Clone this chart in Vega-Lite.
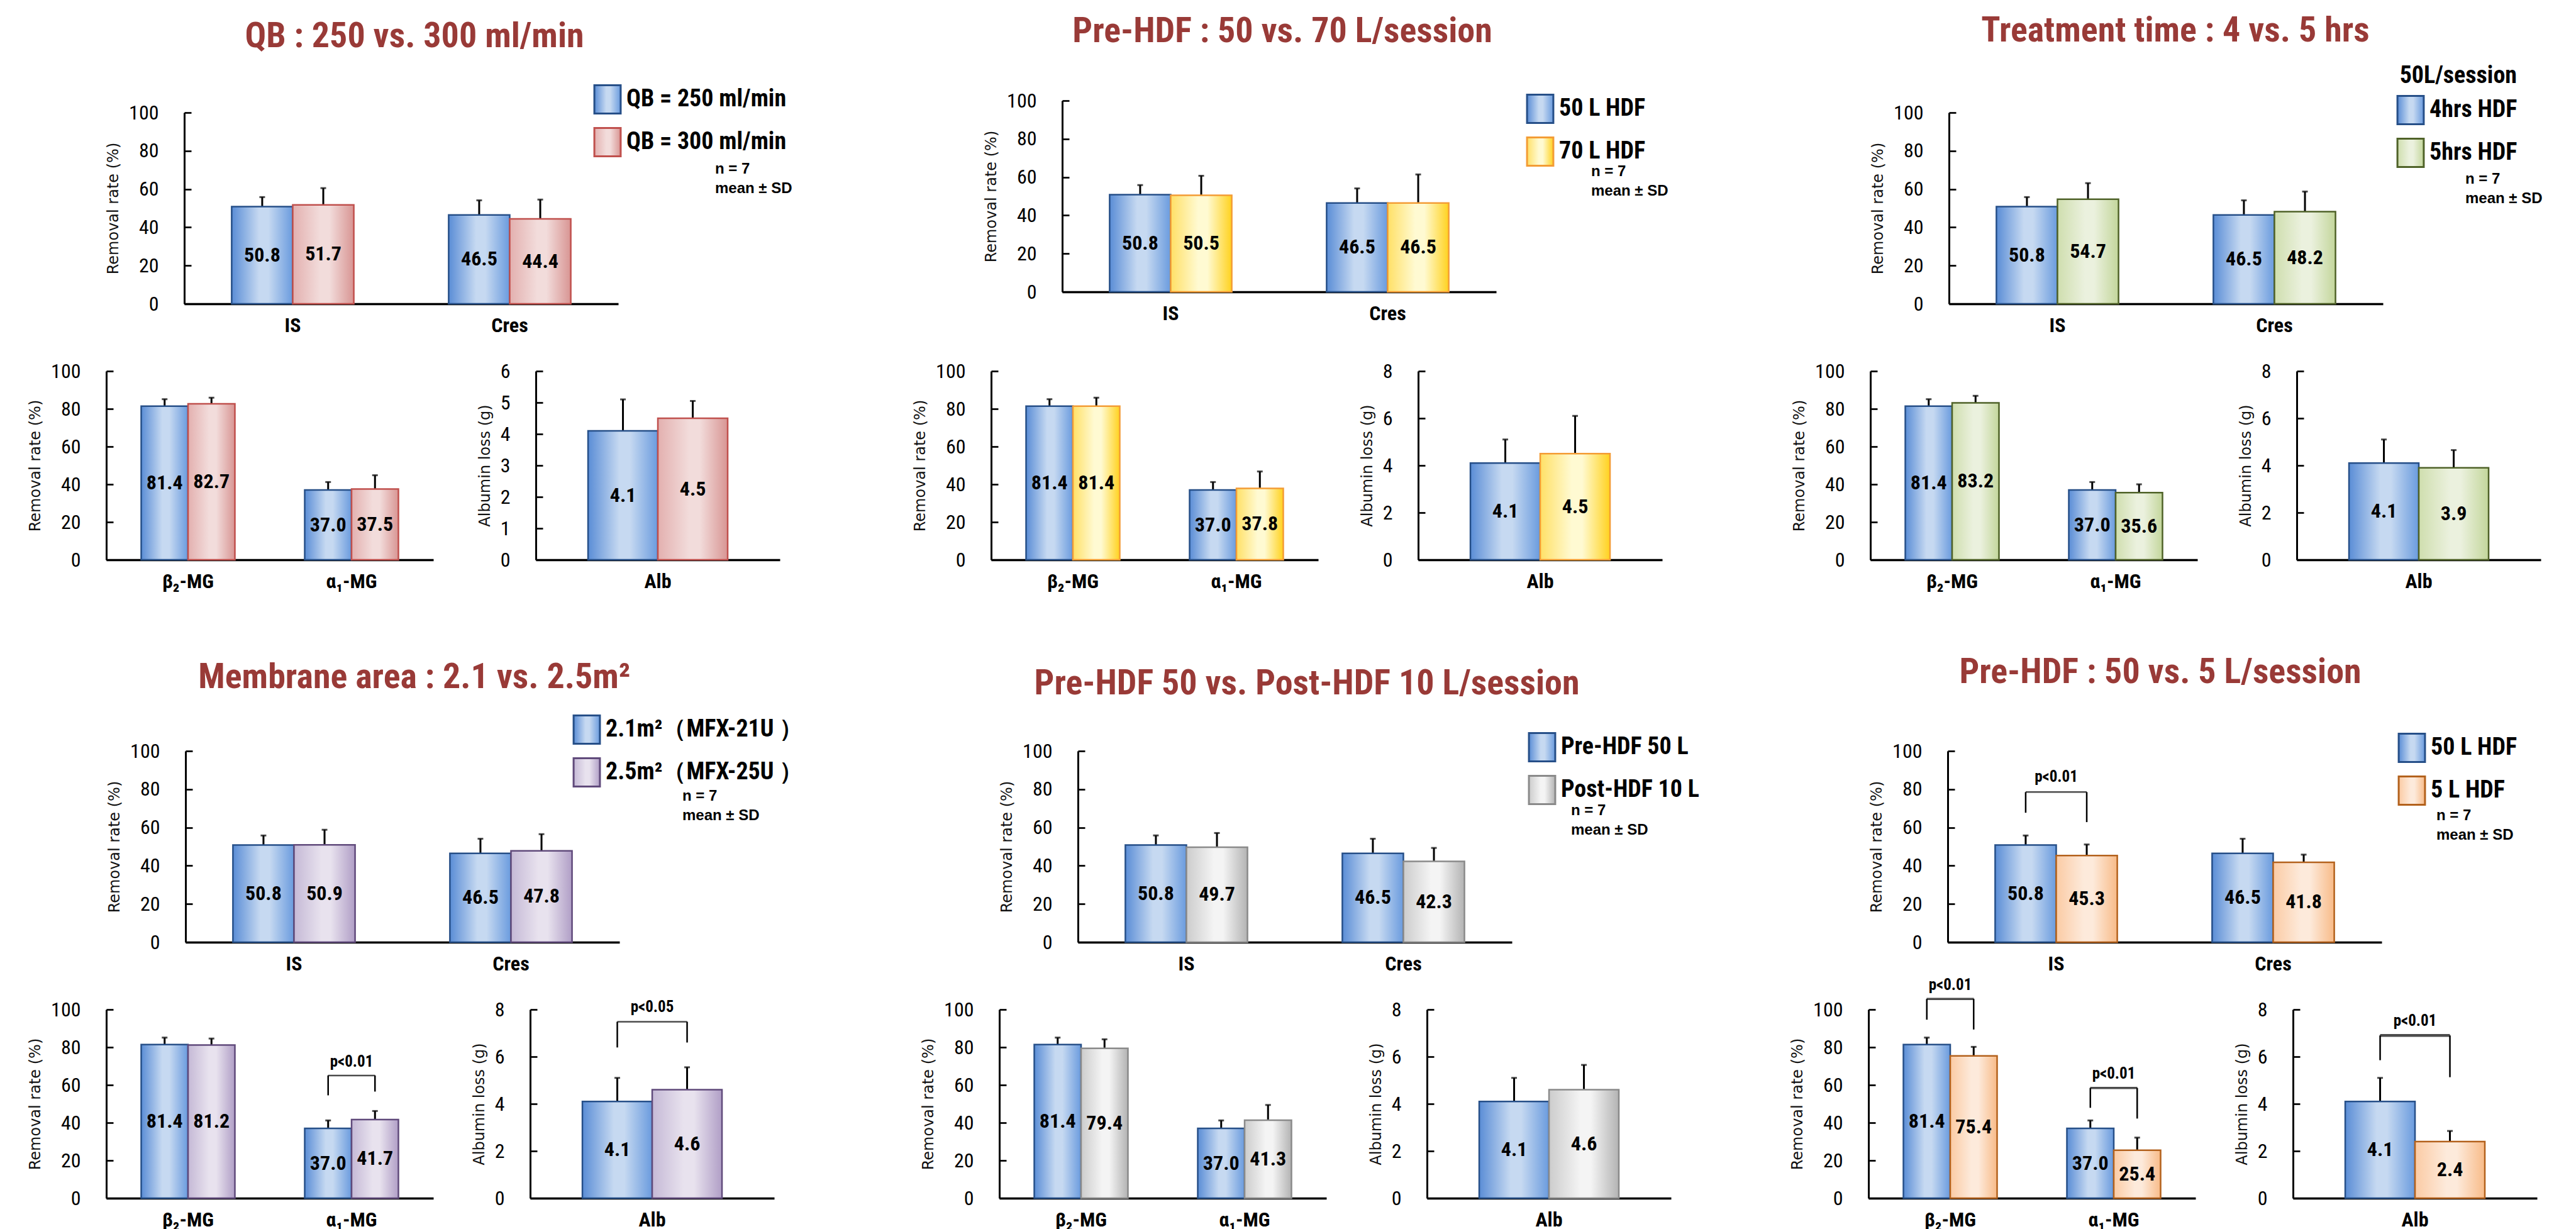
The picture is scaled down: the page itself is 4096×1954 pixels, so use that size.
{
"$schema":"https://vega.github.io/schema/vega-lite/v6.json",
"background":"white",
"padding":{"left":28,"top":15,"right":0,"bottom":0},
"config":{
 "view":{"stroke":null},
 "concat":{"spacing":0},
 "font":"Liberation Sans Narrow, Roboto Condensed, DejaVu Sans Condensed, Arial Narrow, sans-serif",
 "axis":{"grid":false,"domainColor":"#000","labelColor":"#000","labelFont":"Liberation Sans Narrow, Roboto Condensed, DejaVu Sans Condensed, Arial Narrow, sans-serif","labelFontSize":32,"titleFont":"DejaVu Sans, Verdana, sans-serif","titleFontSize":24,"titleFontWeight":"normal","titleColor":"#111"},
 "axisX":{"ticks":false,"domainWidth":3.5,"labelFontWeight":"bold","labelPadding":19,"labelAngle":0},
 "axisY":{"domainWidth":3,"ticks":true,"tickColor":"#000","tickWidth":2.7,"tickSize":-11,"labelPadding":52,"titlePadding":12,"labelFontWeight":"normal"},
 "legend":{"padding":0,"offset":0,"symbolType":"M-0.93,-1H0.93V1H-0.93Z","symbolSize":2025,"symbolStrokeWidth":3,"labelFont":"Liberation Sans Narrow, Roboto Condensed, DejaVu Sans Condensed, Arial Narrow, sans-serif","labelFontSize":38,"labelFontWeight":"bold","labelColor":"#000","labelOffset":6,"rowPadding":10,"labelLimit":800,"titleFont":"Liberation Sans Narrow, Roboto Condensed, DejaVu Sans Condensed, Arial Narrow, sans-serif","titleFontSize":38,"titleFontWeight":"bold","titleColor":"#000","titleLimit":800},
 "title":{"font":"Liberation Sans Narrow, Roboto Condensed, DejaVu Sans Condensed, Arial Narrow, sans-serif","fontSize":56,"fontWeight":"bold","color":"#993a37","anchor":"middle","frame":"group"},
 "text":{"font":"Liberation Sans Narrow, Roboto Condensed, DejaVu Sans Condensed, Arial Narrow, sans-serif","color":"#000"}
},
"datasets":{
 "d":[
  {"p":1,"g":"t","c":"IS","s":"QB = 250 ml/min","v":50.8,"sd":5.0},
  {"p":1,"g":"t","c":"IS","s":"QB = 300 ml/min","v":51.7,"sd":8.8},
  {"p":1,"g":"t","c":"Cres","s":"QB = 250 ml/min","v":46.5,"sd":7.6},
  {"p":1,"g":"t","c":"Cres","s":"QB = 300 ml/min","v":44.4,"sd":10.1},
  {"p":1,"g":"b","c":"β₂-MG","s":"QB = 250 ml/min","v":81.4,"sd":3.7},
  {"p":1,"g":"b","c":"β₂-MG","s":"QB = 300 ml/min","v":82.7,"sd":3.2},
  {"p":1,"g":"b","c":"α₁-MG","s":"QB = 250 ml/min","v":37.0,"sd":4.2},
  {"p":1,"g":"b","c":"α₁-MG","s":"QB = 300 ml/min","v":37.5,"sd":7.3},
  {"p":1,"g":"a","c":"Alb","s":"QB = 250 ml/min","v":4.1,"sd":1.0},
  {"p":1,"g":"a","c":"Alb","s":"QB = 300 ml/min","v":4.5,"sd":0.55},
  {"p":2,"g":"t","c":"IS","s":"50 L  HDF","v":50.8,"sd":5.0},
  {"p":2,"g":"t","c":"IS","s":"70 L  HDF","v":50.5,"sd":10.2},
  {"p":2,"g":"t","c":"Cres","s":"50 L  HDF","v":46.5,"sd":7.6},
  {"p":2,"g":"t","c":"Cres","s":"70 L  HDF","v":46.5,"sd":14.9},
  {"p":2,"g":"b","c":"β₂-MG","s":"50 L  HDF","v":81.4,"sd":3.7},
  {"p":2,"g":"b","c":"β₂-MG","s":"70 L  HDF","v":81.4,"sd":4.5},
  {"p":2,"g":"b","c":"α₁-MG","s":"50 L  HDF","v":37.0,"sd":4.2},
  {"p":2,"g":"b","c":"α₁-MG","s":"70 L  HDF","v":37.8,"sd":9.0},
  {"p":2,"g":"a","c":"Alb","s":"50 L  HDF","v":4.1,"sd":1.0},
  {"p":2,"g":"a","c":"Alb","s":"70 L  HDF","v":4.5,"sd":1.6},
  {"p":3,"g":"t","c":"IS","s":"4hrs HDF","v":50.8,"sd":5.0},
  {"p":3,"g":"t","c":"IS","s":"5hrs HDF","v":54.7,"sd":8.4},
  {"p":3,"g":"t","c":"Cres","s":"4hrs HDF","v":46.5,"sd":7.6},
  {"p":3,"g":"t","c":"Cres","s":"5hrs HDF","v":48.2,"sd":10.5},
  {"p":3,"g":"b","c":"β₂-MG","s":"4hrs HDF","v":81.4,"sd":3.7},
  {"p":3,"g":"b","c":"β₂-MG","s":"5hrs HDF","v":83.2,"sd":3.7},
  {"p":3,"g":"b","c":"α₁-MG","s":"4hrs HDF","v":37.0,"sd":4.2},
  {"p":3,"g":"b","c":"α₁-MG","s":"5hrs HDF","v":35.6,"sd":4.4},
  {"p":3,"g":"a","c":"Alb","s":"4hrs HDF","v":4.1,"sd":1.0},
  {"p":3,"g":"a","c":"Alb","s":"5hrs HDF","v":3.9,"sd":0.75},
  {"p":4,"g":"t","c":"IS","s":"2.1m²（MFX-21U ）","v":50.8,"sd":5.0},
  {"p":4,"g":"t","c":"IS","s":"2.5m²（MFX-25U ）","v":50.9,"sd":7.9},
  {"p":4,"g":"t","c":"Cres","s":"2.1m²（MFX-21U ）","v":46.5,"sd":7.6},
  {"p":4,"g":"t","c":"Cres","s":"2.5m²（MFX-25U ）","v":47.8,"sd":8.7},
  {"p":4,"g":"b","c":"β₂-MG","s":"2.1m²（MFX-21U ）","v":81.4,"sd":3.7},
  {"p":4,"g":"b","c":"β₂-MG","s":"2.5m²（MFX-25U ）","v":81.2,"sd":3.4},
  {"p":4,"g":"b","c":"α₁-MG","s":"2.1m²（MFX-21U ）","v":37.0,"sd":4.2},
  {"p":4,"g":"b","c":"α₁-MG","s":"2.5m²（MFX-25U ）","v":41.7,"sd":4.5},
  {"p":4,"g":"a","c":"Alb","s":"2.1m²（MFX-21U ）","v":4.1,"sd":1.0},
  {"p":4,"g":"a","c":"Alb","s":"2.5m²（MFX-25U ）","v":4.6,"sd":0.95},
  {"p":5,"g":"t","c":"IS","s":"Pre-HDF  50 L","v":50.8,"sd":5.0},
  {"p":5,"g":"t","c":"IS","s":"Post-HDF 10 L","v":49.7,"sd":7.4},
  {"p":5,"g":"t","c":"Cres","s":"Pre-HDF  50 L","v":46.5,"sd":7.6},
  {"p":5,"g":"t","c":"Cres","s":"Post-HDF 10 L","v":42.3,"sd":7.0},
  {"p":5,"g":"b","c":"β₂-MG","s":"Pre-HDF  50 L","v":81.4,"sd":3.7},
  {"p":5,"g":"b","c":"β₂-MG","s":"Post-HDF 10 L","v":79.4,"sd":4.8},
  {"p":5,"g":"b","c":"α₁-MG","s":"Pre-HDF  50 L","v":37.0,"sd":4.2},
  {"p":5,"g":"b","c":"α₁-MG","s":"Post-HDF 10 L","v":41.3,"sd":8.1},
  {"p":5,"g":"a","c":"Alb","s":"Pre-HDF  50 L","v":4.1,"sd":1.0},
  {"p":5,"g":"a","c":"Alb","s":"Post-HDF 10 L","v":4.6,"sd":1.05},
  {"p":6,"g":"t","c":"IS","s":"50 L HDF","v":50.8,"sd":5.0},
  {"p":6,"g":"t","c":"IS","s":" 5 L  HDF","v":45.3,"sd":5.8},
  {"p":6,"g":"t","c":"Cres","s":"50 L HDF","v":46.5,"sd":7.6},
  {"p":6,"g":"t","c":"Cres","s":" 5 L  HDF","v":41.8,"sd":4.0},
  {"p":6,"g":"b","c":"β₂-MG","s":"50 L HDF","v":81.4,"sd":3.7},
  {"p":6,"g":"b","c":"β₂-MG","s":" 5 L  HDF","v":75.4,"sd":4.8},
  {"p":6,"g":"b","c":"α₁-MG","s":"50 L HDF","v":37.0,"sd":4.2},
  {"p":6,"g":"b","c":"α₁-MG","s":" 5 L  HDF","v":25.4,"sd":6.7},
  {"p":6,"g":"a","c":"Alb","s":"50 L HDF","v":4.1,"sd":1.0},
  {"p":6,"g":"a","c":"Alb","s":" 5 L  HDF","v":2.4,"sd":0.45}
 ],
 "legs":[
  {"p":4,"g":"b","c":"α₁-MG","s":"2.1m²（MFX-21U ）","top":65,"bot":54.5},
  {"p":4,"g":"b","c":"α₁-MG","s":"2.5m²（MFX-25U ）","top":65,"bot":56.5},
  {"p":4,"g":"a","c":"Alb","s":"2.1m²（MFX-21U ）","top":7.48,"bot":6.39},
  {"p":4,"g":"a","c":"Alb","s":"2.5m²（MFX-25U ）","top":7.48,"bot":6.6},
  {"p":6,"g":"t","c":"IS","s":"50 L HDF","top":78.5,"bot":67.7},
  {"p":6,"g":"t","c":"IS","s":" 5 L  HDF","top":78.5,"bot":62.8},
  {"p":6,"g":"b","c":"β₂-MG","s":"50 L HDF","top":105.6,"bot":94.6},
  {"p":6,"g":"b","c":"β₂-MG","s":" 5 L  HDF","top":105.6,"bot":89.4},
  {"p":6,"g":"b","c":"α₁-MG","s":"50 L HDF","top":58.4,"bot":47.9},
  {"p":6,"g":"b","c":"α₁-MG","s":" 5 L  HDF","top":58.4,"bot":42.2},
  {"p":6,"g":"a","c":"Alb","s":"50 L HDF","top":6.9,"bot":5.85},
  {"p":6,"g":"a","c":"Alb","s":" 5 L  HDF","top":6.9,"bot":5.13}
 ],
 "brk":[
  {"p":4,"g":"b","c":"α₁-MG","h":65,"ty":72.3,"t":"p<0.01"},
  {"p":4,"g":"a","c":"Alb","h":7.48,"ty":8.1,"t":"p<0.05"},
  {"p":6,"g":"t","c":"IS","h":78.5,"ty":86.5,"t":"p<0.01"},
  {"p":6,"g":"b","c":"β₂-MG","h":105.6,"ty":113,"t":"p<0.01"},
  {"p":6,"g":"b","c":"α₁-MG","h":58.4,"ty":66,"t":"p<0.01"},
  {"p":6,"g":"a","c":"Alb","h":6.9,"ty":7.53,"t":"p<0.01"}
 ]
},
"spacing":0,"bounds":"full",
"resolve":{"scale":{"fill":"independent","stroke":"independent","xOffset":"independent"},"legend":{"fill":"independent","stroke":"independent"}},
"vconcat":[
 {"hconcat":[
   {"width":125,"height":1,"data":{"values":[{}]},"mark":{"type":"rule","opacity":0},"encoding":{"x":{"datum":0,"type":"quantitative","scale":{"domain":[0,1],"nice":false,"zero":false},"axis":null},"y":{"datum":146,"type":"quantitative","scale":{"domain":[0,1],"nice":false,"zero":false},"axis":null},"y2":{"datum":-379}}},
   {"width":690,"height":323,
    "title":{"text":"QB : 250 vs. 300 ml/min","dx":21,"offset":46.7},
    "data":{"name":"d"},
    "transform":[{"filter":"datum.p==1&&datum.g=='t'"},{"calculate":"datum.v/2","as":"mid"},{"calculate":"datum.v+datum.sd","as":"hi"}],
    "encoding":{"x":{"field":"c","type":"nominal","title":null,"scale":{"type":"band","domain":["IS","Cres"],"paddingInner":0.437,"paddingOuter":0.2185}}},
    "layer":[
     {"mark":{"type":"rule","color":"#000","strokeWidth":3},"encoding":{"xOffset":{"field":"s","type":"nominal","scale":{"type":"band","domain":["QB = 250 ml/min","QB = 300 ml/min"],"range":[0,194.2],"paddingInner":0,"paddingOuter":0}},"y":{"field":"v","type":"quantitative","title":"Removal rate (%)","scale":{"domain":[0,106.25],"nice":false},"axis":{"values":[0,20,40,60,80,100],"domainDash":[304,100],"titleY":171}},"y2":{"field":"hi"}}},
     {"mark":{"type":"tick","color":"#000","size":9,"thickness":3},"encoding":{"xOffset":{"field":"s","type":"nominal"},"y":{"field":"hi","type":"quantitative","title":"Removal rate (%)"}}},
     {"mark":{"type":"bar","strokeWidth":2.5},"encoding":{"xOffset":{"field":"s","type":"nominal"},"y":{"field":"v","type":"quantitative","title":"Removal rate (%)"},
       "fill":{"field":"s","type":"nominal","scale":{"domain":["QB = 250 ml/min","QB = 300 ml/min"],"range":[{"expr":"{gradient:'linear',x1:0,y1:0,x2:1,y2:0,stops:[{offset:0,color:'#5a8dd6'},{offset:0.45,color:'#c6d9f1'},{offset:0.6,color:'#c6d9f1'},{offset:1,color:'#6a9bde'}]}"},{"expr":"{gradient:'linear',x1:0,y1:0,x2:1,y2:0,stops:[{offset:0,color:'#e3b0af'},{offset:0.45,color:'#f2dcdb'},{offset:0.6,color:'#f2dcdb'},{offset:1,color:'#d89593'}]}"}]},"legend":{"orient":"none","legendX":649,"legendY":-26,"title":null}},
       "stroke":{"field":"s","type":"nominal","scale":{"domain":["QB = 250 ml/min","QB = 300 ml/min"],"range":["#264f88","#c0504d"]},"legend":{"orient":"none","legendX":649,"legendY":-26,"title":null}}}},
     {"mark":{"type":"text","fontSize":32,"fontWeight":"bold"},"encoding":{"xOffset":{"field":"s","type":"nominal"},"y":{"field":"mid","type":"quantitative","title":"Removal rate (%)"},"text":{"field":"v","type":"quantitative","format":".1f"}}}
    ]},
   {"width":706,"height":1,"title":{"text":["n = 7","mean ± SD"],"font":"Liberation Sans, Arial, sans-serif","fontSize":24,"lineHeight":31,"color":"#000","anchor":"start","frame":"group","align":"left","baseline":"top","dx":154,"dy":151.5,"offset":0},"data":{"values":[{}]},"mark":{"type":"rule","opacity":0},"encoding":{"x":{"datum":0,"type":"quantitative","scale":{"domain":[0,1]},"axis":null},"y":{"datum":1,"type":"quantitative","scale":{"domain":[0,1]},"axis":null},"y2":{"datum":0}}},
   {"width":690,"height":304,
    "title":{"text":"Pre-HDF : 50  vs.  70 L/session","dx":5,"offset":64.8},
    "data":{"name":"d"},
    "transform":[{"filter":"datum.p==2&&datum.g=='t'"},{"calculate":"datum.v/2","as":"mid"},{"calculate":"datum.v+datum.sd","as":"hi"}],
    "encoding":{"x":{"field":"c","type":"nominal","title":null,"scale":{"type":"band","domain":["IS","Cres"],"paddingInner":0.437,"paddingOuter":0.2185}}},
    "layer":[
     {"mark":{"type":"rule","color":"#000","strokeWidth":3},"encoding":{"xOffset":{"field":"s","type":"nominal","scale":{"type":"band","domain":["50 L  HDF","70 L  HDF"],"range":[0,194.2],"paddingInner":0,"paddingOuter":0}},"y":{"field":"v","type":"quantitative","title":"Removal rate (%)","scale":{"domain":[0,100],"nice":false},"axis":{"values":[0,20,40,60,80,100]}},"y2":{"field":"hi"}}},
     {"mark":{"type":"tick","color":"#000","size":9,"thickness":3},"encoding":{"xOffset":{"field":"s","type":"nominal"},"y":{"field":"hi","type":"quantitative","title":"Removal rate (%)"}}},
     {"mark":{"type":"bar","strokeWidth":2.5},"encoding":{"xOffset":{"field":"s","type":"nominal"},"y":{"field":"v","type":"quantitative","title":"Removal rate (%)"},
       "fill":{"field":"s","type":"nominal","scale":{"domain":["50 L  HDF","70 L  HDF"],"range":[{"expr":"{gradient:'linear',x1:0,y1:0,x2:1,y2:0,stops:[{offset:0,color:'#5a8dd6'},{offset:0.45,color:'#c6d9f1'},{offset:0.6,color:'#c6d9f1'},{offset:1,color:'#6a9bde'}]}"},{"expr":"{gradient:'linear',x1:0,y1:0,x2:1,y2:0,stops:[{offset:0,color:'#ffe066'},{offset:0.45,color:'#fffad2'},{offset:0.6,color:'#fffad2'},{offset:1,color:'#ffd21f'}]}"}]},"legend":{"orient":"none","legendX":736,"legendY":-11,"title":null}},
       "stroke":{"field":"s","type":"nominal","scale":{"domain":["50 L  HDF","70 L  HDF"],"range":["#264f88","#f39c35"]},"legend":{"orient":"none","legendX":736,"legendY":-11,"title":null}}}},
     {"mark":{"type":"text","fontSize":32,"fontWeight":"bold"},"encoding":{"xOffset":{"field":"s","type":"nominal"},"y":{"field":"mid","type":"quantitative","title":"Removal rate (%)"},"text":{"field":"v","type":"quantitative","format":".1f"}}}
    ]},
   {"width":720,"height":1,"title":{"text":["n = 7","mean ± SD"],"font":"Liberation Sans, Arial, sans-serif","fontSize":24,"lineHeight":31,"color":"#000","anchor":"start","frame":"group","align":"left","baseline":"top","dx":151,"dy":155.5,"offset":0},"data":{"values":[{}]},"mark":{"type":"rule","opacity":0},"encoding":{"x":{"datum":0,"type":"quantitative","scale":{"domain":[0,1]},"axis":null},"y":{"datum":1,"type":"quantitative","scale":{"domain":[0,1]},"axis":null},"y2":{"datum":0}}},
   {"width":690,"height":323,
    "title":{"text":"Treatment time : 4 vs. 5 hrs","dx":15,"offset":24.2},
    "data":{"name":"d"},
    "transform":[{"filter":"datum.p==3&&datum.g=='t'"},{"calculate":"datum.v/2","as":"mid"},{"calculate":"datum.v+datum.sd","as":"hi"}],
    "encoding":{"x":{"field":"c","type":"nominal","title":null,"scale":{"type":"band","domain":["IS","Cres"],"paddingInner":0.437,"paddingOuter":0.2185}}},
    "layer":[
     {"mark":{"type":"rule","color":"#000","strokeWidth":3},"encoding":{"xOffset":{"field":"s","type":"nominal","scale":{"type":"band","domain":["4hrs HDF","5hrs HDF"],"range":[0,194.2],"paddingInner":0,"paddingOuter":0}},"y":{"field":"v","type":"quantitative","title":"Removal rate (%)","scale":{"domain":[0,106.25],"nice":false},"axis":{"values":[0,20,40,60,80,100],"domainDash":[304,100],"titleY":171}},"y2":{"field":"hi"}}},
     {"mark":{"type":"tick","color":"#000","size":9,"thickness":3},"encoding":{"xOffset":{"field":"s","type":"nominal"},"y":{"field":"hi","type":"quantitative","title":"Removal rate (%)"}}},
     {"mark":{"type":"bar","strokeWidth":2.5},"encoding":{"xOffset":{"field":"s","type":"nominal"},"y":{"field":"v","type":"quantitative","title":"Removal rate (%)"},
       "fill":{"field":"s","type":"nominal","scale":{"domain":["4hrs HDF","5hrs HDF"],"range":[{"expr":"{gradient:'linear',x1:0,y1:0,x2:1,y2:0,stops:[{offset:0,color:'#5a8dd6'},{offset:0.45,color:'#c6d9f1'},{offset:0.6,color:'#c6d9f1'},{offset:1,color:'#6a9bde'}]}"},{"expr":"{gradient:'linear',x1:0,y1:0,x2:1,y2:0,stops:[{offset:0,color:'#cfdeae'},{offset:0.45,color:'#ebf1de'},{offset:0.6,color:'#ebf1de'},{offset:1,color:'#c3d69b'}]}"}]},"legend":{"orient":"none","legendX":710,"legendY":-58,"title":"50L/session","titleAnchor":"end","titlePadding":11}},
       "stroke":{"field":"s","type":"nominal","scale":{"domain":["4hrs HDF","5hrs HDF"],"range":["#264f88","#4f6228"]},"legend":{"orient":"none","legendX":710,"legendY":-58,"title":"50L/session","titleAnchor":"end","titlePadding":11}}}},
     {"mark":{"type":"text","fontSize":32,"fontWeight":"bold"},"encoding":{"xOffset":{"field":"s","type":"nominal"},"y":{"field":"mid","type":"quantitative","title":"Removal rate (%)"},"text":{"field":"v","type":"quantitative","format":".1f"}}}
    ]},
   {"width":1,"height":1,"title":{"text":["n = 7","mean ± SD"],"font":"Liberation Sans, Arial, sans-serif","fontSize":24,"lineHeight":31,"color":"#000","anchor":"start","frame":"group","align":"left","baseline":"top","dx":131,"dy":167.5,"offset":0},"data":{"values":[{}]},"mark":{"type":"rule","opacity":0},"encoding":{"x":{"datum":0,"type":"quantitative","scale":{"domain":[0,1]},"axis":null},"y":{"datum":1,"type":"quantitative","scale":{"domain":[0,1]},"axis":null},"y2":{"datum":0}}}
  ],"spacing":0,"bounds":"flush",
  "resolve":{"scale":{"fill":"independent","stroke":"independent","xOffset":"independent"},"legend":{"fill":"independent","stroke":"independent"}}},
 {"hconcat":[
   {"width":1,"height":1,"data":{"values":[{}]},"mark":{"type":"rule","opacity":0},"encoding":{"x":{"datum":-140,"type":"quantitative","scale":{"domain":[0,1],"nice":false,"zero":false},"axis":null},"y":{"datum":51,"type":"quantitative","scale":{"domain":[0,1],"nice":false,"zero":false},"axis":null},"y2":{"datum":-438}}},
   {"width":520,"height":300,"data":{"name":"d"},
    "transform":[{"filter":"datum.p==1&&datum.g=='b'"},{"calculate":"datum.v/2","as":"mid"},{"calculate":"datum.v+datum.sd","as":"hi"}],
    "encoding":{"x":{"field":"c","type":"nominal","title":null,"scale":{"type":"band","domain":["β₂-MG","α₁-MG"],"paddingInner":0.427,"paddingOuter":0.2135}}},
    "layer":[
     {"mark":{"type":"rule","color":"#000","strokeWidth":3},"encoding":{"xOffset":{"field":"s","type":"nominal","scale":{"type":"band","domain":["QB = 250 ml/min","QB = 300 ml/min"],"range":[0,149],"paddingInner":0,"paddingOuter":0}},"y":{"field":"v","type":"quantitative","title":"Removal rate (%)","scale":{"domain":[0,100],"nice":false},"axis":{"values":[0,20,40,60,80,100]}},"y2":{"field":"hi"}}},
     {"mark":{"type":"tick","color":"#000","size":9,"thickness":3},"encoding":{"xOffset":{"field":"s","type":"nominal"},"y":{"field":"hi","type":"quantitative","title":"Removal rate (%)"}}},
     {"mark":{"type":"bar","strokeWidth":2.5},"encoding":{"xOffset":{"field":"s","type":"nominal"},"y":{"field":"v","type":"quantitative","title":"Removal rate (%)"},
       "fill":{"field":"s","type":"nominal","scale":{"domain":["QB = 250 ml/min","QB = 300 ml/min"],"range":[{"expr":"{gradient:'linear',x1:0,y1:0,x2:1,y2:0,stops:[{offset:0,color:'#5a8dd6'},{offset:0.45,color:'#c6d9f1'},{offset:0.6,color:'#c6d9f1'},{offset:1,color:'#6a9bde'}]}"},{"expr":"{gradient:'linear',x1:0,y1:0,x2:1,y2:0,stops:[{offset:0,color:'#e3b0af'},{offset:0.45,color:'#f2dcdb'},{offset:0.6,color:'#f2dcdb'},{offset:1,color:'#d89593'}]}"}]},"legend":null},
       "stroke":{"field":"s","type":"nominal","scale":{"domain":["QB = 250 ml/min","QB = 300 ml/min"],"range":["#264f88","#c0504d"]},"legend":null}}},
     {"mark":{"type":"text","fontSize":32,"fontWeight":"bold"},"encoding":{"xOffset":{"field":"s","type":"nominal"},"y":{"field":"mid","type":"quantitative","title":"Removal rate (%)"},"text":{"field":"v","type":"quantitative","format":".1f"}}}
    ]},
   {"width":163,"height":1,"data":{"values":[{}]},"mark":{"type":"point","opacity":0}},
   {"width":388,"height":300,"data":{"name":"d"},
    "transform":[{"filter":"datum.p==1&&datum.g=='a'"},{"calculate":"datum.v/2","as":"mid"},{"calculate":"datum.v+datum.sd","as":"hi"}],
    "encoding":{"x":{"field":"c","type":"nominal","title":null,"scale":{"type":"band","domain":["Alb"],"paddingInner":0.428,"paddingOuter":0.214}}},
    "layer":[
     {"mark":{"type":"rule","color":"#000","strokeWidth":3},"encoding":{"xOffset":{"field":"s","type":"nominal","scale":{"type":"band","domain":["QB = 250 ml/min","QB = 300 ml/min"],"range":[0,222],"paddingInner":0,"paddingOuter":0}},"y":{"field":"v","type":"quantitative","title":"Albumin loss (g)","scale":{"domain":[0,6],"nice":false},"axis":{"values":[0,1,2,3,4,5,6]}},"y2":{"field":"hi"}}},
     {"mark":{"type":"tick","color":"#000","size":9,"thickness":3},"encoding":{"xOffset":{"field":"s","type":"nominal"},"y":{"field":"hi","type":"quantitative","title":"Albumin loss (g)"}}},
     {"mark":{"type":"bar","strokeWidth":2.5},"encoding":{"xOffset":{"field":"s","type":"nominal"},"y":{"field":"v","type":"quantitative","title":"Albumin loss (g)"},
       "fill":{"field":"s","type":"nominal","scale":{"domain":["QB = 250 ml/min","QB = 300 ml/min"],"range":[{"expr":"{gradient:'linear',x1:0,y1:0,x2:1,y2:0,stops:[{offset:0,color:'#5a8dd6'},{offset:0.45,color:'#c6d9f1'},{offset:0.6,color:'#c6d9f1'},{offset:1,color:'#6a9bde'}]}"},{"expr":"{gradient:'linear',x1:0,y1:0,x2:1,y2:0,stops:[{offset:0,color:'#e3b0af'},{offset:0.45,color:'#f2dcdb'},{offset:0.6,color:'#f2dcdb'},{offset:1,color:'#d89593'}]}"}]},"legend":null},
       "stroke":{"field":"s","type":"nominal","scale":{"domain":["QB = 250 ml/min","QB = 300 ml/min"],"range":["#264f88","#c0504d"]},"legend":null}}},
     {"mark":{"type":"text","fontSize":32,"fontWeight":"bold"},"encoding":{"xOffset":{"field":"s","type":"nominal"},"y":{"field":"mid","type":"quantitative","title":"Albumin loss (g)"},"text":{"field":"v","type":"quantitative","format":".1f"}}}
    ]},
   {"width":336,"height":1,"data":{"values":[{}]},"mark":{"type":"point","opacity":0}},
   {"width":520,"height":300,"data":{"name":"d"},
    "transform":[{"filter":"datum.p==2&&datum.g=='b'"},{"calculate":"datum.v/2","as":"mid"},{"calculate":"datum.v+datum.sd","as":"hi"}],
    "encoding":{"x":{"field":"c","type":"nominal","title":null,"scale":{"type":"band","domain":["β₂-MG","α₁-MG"],"paddingInner":0.427,"paddingOuter":0.2135}}},
    "layer":[
     {"mark":{"type":"rule","color":"#000","strokeWidth":3},"encoding":{"xOffset":{"field":"s","type":"nominal","scale":{"type":"band","domain":["50 L  HDF","70 L  HDF"],"range":[0,149],"paddingInner":0,"paddingOuter":0}},"y":{"field":"v","type":"quantitative","title":"Removal rate (%)","scale":{"domain":[0,100],"nice":false},"axis":{"values":[0,20,40,60,80,100]}},"y2":{"field":"hi"}}},
     {"mark":{"type":"tick","color":"#000","size":9,"thickness":3},"encoding":{"xOffset":{"field":"s","type":"nominal"},"y":{"field":"hi","type":"quantitative","title":"Removal rate (%)"}}},
     {"mark":{"type":"bar","strokeWidth":2.5},"encoding":{"xOffset":{"field":"s","type":"nominal"},"y":{"field":"v","type":"quantitative","title":"Removal rate (%)"},
       "fill":{"field":"s","type":"nominal","scale":{"domain":["50 L  HDF","70 L  HDF"],"range":[{"expr":"{gradient:'linear',x1:0,y1:0,x2:1,y2:0,stops:[{offset:0,color:'#5a8dd6'},{offset:0.45,color:'#c6d9f1'},{offset:0.6,color:'#c6d9f1'},{offset:1,color:'#6a9bde'}]}"},{"expr":"{gradient:'linear',x1:0,y1:0,x2:1,y2:0,stops:[{offset:0,color:'#ffe066'},{offset:0.45,color:'#fffad2'},{offset:0.6,color:'#fffad2'},{offset:1,color:'#ffd21f'}]}"}]},"legend":null},
       "stroke":{"field":"s","type":"nominal","scale":{"domain":["50 L  HDF","70 L  HDF"],"range":["#264f88","#f39c35"]},"legend":null}}},
     {"mark":{"type":"text","fontSize":32,"fontWeight":"bold"},"encoding":{"xOffset":{"field":"s","type":"nominal"},"y":{"field":"mid","type":"quantitative","title":"Removal rate (%)"},"text":{"field":"v","type":"quantitative","format":".1f"}}}
    ]},
   {"width":159,"height":1,"data":{"values":[{}]},"mark":{"type":"point","opacity":0}},
   {"width":388,"height":300,"data":{"name":"d"},
    "transform":[{"filter":"datum.p==2&&datum.g=='a'"},{"calculate":"datum.v/2","as":"mid"},{"calculate":"datum.v+datum.sd","as":"hi"}],
    "encoding":{"x":{"field":"c","type":"nominal","title":null,"scale":{"type":"band","domain":["Alb"],"paddingInner":0.428,"paddingOuter":0.214}}},
    "layer":[
     {"mark":{"type":"rule","color":"#000","strokeWidth":3},"encoding":{"xOffset":{"field":"s","type":"nominal","scale":{"type":"band","domain":["50 L  HDF","70 L  HDF"],"range":[0,222],"paddingInner":0,"paddingOuter":0}},"y":{"field":"v","type":"quantitative","title":"Albumin loss (g)","scale":{"domain":[0,8],"nice":false},"axis":{"values":[0,2,4,6,8]}},"y2":{"field":"hi"}}},
     {"mark":{"type":"tick","color":"#000","size":9,"thickness":3},"encoding":{"xOffset":{"field":"s","type":"nominal"},"y":{"field":"hi","type":"quantitative","title":"Albumin loss (g)"}}},
     {"mark":{"type":"bar","strokeWidth":2.5},"encoding":{"xOffset":{"field":"s","type":"nominal"},"y":{"field":"v","type":"quantitative","title":"Albumin loss (g)"},
       "fill":{"field":"s","type":"nominal","scale":{"domain":["50 L  HDF","70 L  HDF"],"range":[{"expr":"{gradient:'linear',x1:0,y1:0,x2:1,y2:0,stops:[{offset:0,color:'#5a8dd6'},{offset:0.45,color:'#c6d9f1'},{offset:0.6,color:'#c6d9f1'},{offset:1,color:'#6a9bde'}]}"},{"expr":"{gradient:'linear',x1:0,y1:0,x2:1,y2:0,stops:[{offset:0,color:'#ffe066'},{offset:0.45,color:'#fffad2'},{offset:0.6,color:'#fffad2'},{offset:1,color:'#ffd21f'}]}"}]},"legend":null},
       "stroke":{"field":"s","type":"nominal","scale":{"domain":["50 L  HDF","70 L  HDF"],"range":["#264f88","#f39c35"]},"legend":null}}},
     {"mark":{"type":"text","fontSize":32,"fontWeight":"bold"},"encoding":{"xOffset":{"field":"s","type":"nominal"},"y":{"field":"mid","type":"quantitative","title":"Albumin loss (g)"},"text":{"field":"v","type":"quantitative","format":".1f"}}}
    ]},
   {"width":331,"height":1,"data":{"values":[{}]},"mark":{"type":"point","opacity":0}},
   {"width":520,"height":300,"data":{"name":"d"},
    "transform":[{"filter":"datum.p==3&&datum.g=='b'"},{"calculate":"datum.v/2","as":"mid"},{"calculate":"datum.v+datum.sd","as":"hi"}],
    "encoding":{"x":{"field":"c","type":"nominal","title":null,"scale":{"type":"band","domain":["β₂-MG","α₁-MG"],"paddingInner":0.427,"paddingOuter":0.2135}}},
    "layer":[
     {"mark":{"type":"rule","color":"#000","strokeWidth":3},"encoding":{"xOffset":{"field":"s","type":"nominal","scale":{"type":"band","domain":["4hrs HDF","5hrs HDF"],"range":[0,149],"paddingInner":0,"paddingOuter":0}},"y":{"field":"v","type":"quantitative","title":"Removal rate (%)","scale":{"domain":[0,100],"nice":false},"axis":{"values":[0,20,40,60,80,100]}},"y2":{"field":"hi"}}},
     {"mark":{"type":"tick","color":"#000","size":9,"thickness":3},"encoding":{"xOffset":{"field":"s","type":"nominal"},"y":{"field":"hi","type":"quantitative","title":"Removal rate (%)"}}},
     {"mark":{"type":"bar","strokeWidth":2.5},"encoding":{"xOffset":{"field":"s","type":"nominal"},"y":{"field":"v","type":"quantitative","title":"Removal rate (%)"},
       "fill":{"field":"s","type":"nominal","scale":{"domain":["4hrs HDF","5hrs HDF"],"range":[{"expr":"{gradient:'linear',x1:0,y1:0,x2:1,y2:0,stops:[{offset:0,color:'#5a8dd6'},{offset:0.45,color:'#c6d9f1'},{offset:0.6,color:'#c6d9f1'},{offset:1,color:'#6a9bde'}]}"},{"expr":"{gradient:'linear',x1:0,y1:0,x2:1,y2:0,stops:[{offset:0,color:'#cfdeae'},{offset:0.45,color:'#ebf1de'},{offset:0.6,color:'#ebf1de'},{offset:1,color:'#c3d69b'}]}"}]},"legend":null},
       "stroke":{"field":"s","type":"nominal","scale":{"domain":["4hrs HDF","5hrs HDF"],"range":["#264f88","#4f6228"]},"legend":null}}},
     {"mark":{"type":"text","fontSize":32,"fontWeight":"bold"},"encoding":{"xOffset":{"field":"s","type":"nominal"},"y":{"field":"mid","type":"quantitative","title":"Removal rate (%)"},"text":{"field":"v","type":"quantitative","format":".1f"}}}
    ]},
   {"width":158,"height":1,"data":{"values":[{}]},"mark":{"type":"point","opacity":0}},
   {"width":388,"height":300,"data":{"name":"d"},
    "transform":[{"filter":"datum.p==3&&datum.g=='a'"},{"calculate":"datum.v/2","as":"mid"},{"calculate":"datum.v+datum.sd","as":"hi"}],
    "encoding":{"x":{"field":"c","type":"nominal","title":null,"scale":{"type":"band","domain":["Alb"],"paddingInner":0.428,"paddingOuter":0.214}}},
    "layer":[
     {"mark":{"type":"rule","color":"#000","strokeWidth":3},"encoding":{"xOffset":{"field":"s","type":"nominal","scale":{"type":"band","domain":["4hrs HDF","5hrs HDF"],"range":[0,222],"paddingInner":0,"paddingOuter":0}},"y":{"field":"v","type":"quantitative","title":"Albumin loss (g)","scale":{"domain":[0,8],"nice":false},"axis":{"values":[0,2,4,6,8]}},"y2":{"field":"hi"}}},
     {"mark":{"type":"tick","color":"#000","size":9,"thickness":3},"encoding":{"xOffset":{"field":"s","type":"nominal"},"y":{"field":"hi","type":"quantitative","title":"Albumin loss (g)"}}},
     {"mark":{"type":"bar","strokeWidth":2.5},"encoding":{"xOffset":{"field":"s","type":"nominal"},"y":{"field":"v","type":"quantitative","title":"Albumin loss (g)"},
       "fill":{"field":"s","type":"nominal","scale":{"domain":["4hrs HDF","5hrs HDF"],"range":[{"expr":"{gradient:'linear',x1:0,y1:0,x2:1,y2:0,stops:[{offset:0,color:'#5a8dd6'},{offset:0.45,color:'#c6d9f1'},{offset:0.6,color:'#c6d9f1'},{offset:1,color:'#6a9bde'}]}"},{"expr":"{gradient:'linear',x1:0,y1:0,x2:1,y2:0,stops:[{offset:0,color:'#cfdeae'},{offset:0.45,color:'#ebf1de'},{offset:0.6,color:'#ebf1de'},{offset:1,color:'#c3d69b'}]}"}]},"legend":null},
       "stroke":{"field":"s","type":"nominal","scale":{"domain":["4hrs HDF","5hrs HDF"],"range":["#264f88","#4f6228"]},"legend":null}}},
     {"mark":{"type":"text","fontSize":32,"fontWeight":"bold"},"encoding":{"xOffset":{"field":"s","type":"nominal"},"y":{"field":"mid","type":"quantitative","title":"Albumin loss (g)"},"text":{"field":"v","type":"quantitative","format":".1f"}}}
    ]}
  ],"spacing":0,"bounds":"flush",
  "resolve":{"scale":{"fill":"independent","stroke":"independent","xOffset":"independent"},"legend":{"fill":"independent","stroke":"independent"}}},
 {"hconcat":[
   {"width":127,"height":1,"data":{"values":[{}]},"mark":{"type":"rule","opacity":0},"encoding":{"x":{"datum":0,"type":"quantitative","scale":{"domain":[0,1],"nice":false,"zero":false},"axis":null},"y":{"datum":166,"type":"quantitative","scale":{"domain":[0,1],"nice":false,"zero":false},"axis":null},"y2":{"datum":-357}}},
   {"width":690,"height":304,
    "title":{"text":"Membrane area : 2.1 vs. 2.5m²","dx":19,"offset":29.7},
    "data":{"name":"d"},
    "transform":[{"filter":"datum.p==4&&datum.g=='t'"},{"calculate":"datum.v/2","as":"mid"},{"calculate":"datum.v+datum.sd","as":"hi"}],
    "encoding":{"x":{"field":"c","type":"nominal","title":null,"scale":{"type":"band","domain":["IS","Cres"],"paddingInner":0.437,"paddingOuter":0.2185}}},
    "layer":[
     {"mark":{"type":"rule","color":"#000","strokeWidth":3},"encoding":{"xOffset":{"field":"s","type":"nominal","scale":{"type":"band","domain":["2.1m²（MFX-21U ）","2.5m²（MFX-25U ）"],"range":[0,194.2],"paddingInner":0,"paddingOuter":0}},"y":{"field":"v","type":"quantitative","title":"Removal rate (%)","scale":{"domain":[0,100],"nice":false},"axis":{"values":[0,20,40,60,80,100]}},"y2":{"field":"hi"}}},
     {"mark":{"type":"tick","color":"#000","size":9,"thickness":3},"encoding":{"xOffset":{"field":"s","type":"nominal"},"y":{"field":"hi","type":"quantitative","title":"Removal rate (%)"}}},
     {"mark":{"type":"bar","strokeWidth":2.5},"encoding":{"xOffset":{"field":"s","type":"nominal"},"y":{"field":"v","type":"quantitative","title":"Removal rate (%)"},
       "fill":{"field":"s","type":"nominal","scale":{"domain":["2.1m²（MFX-21U ）","2.5m²（MFX-25U ）"],"range":[{"expr":"{gradient:'linear',x1:0,y1:0,x2:1,y2:0,stops:[{offset:0,color:'#5a8dd6'},{offset:0.45,color:'#c6d9f1'},{offset:0.6,color:'#c6d9f1'},{offset:1,color:'#6a9bde'}]}"},{"expr":"{gradient:'linear',x1:0,y1:0,x2:1,y2:0,stops:[{offset:0,color:'#c5b9d6'},{offset:0.45,color:'#e8e2ee'},{offset:0.6,color:'#e8e2ee'},{offset:1,color:'#b09ec6'}]}"}]},"legend":{"orient":"none","legendX":614,"legendY":-58,"title":null}},
       "stroke":{"field":"s","type":"nominal","scale":{"domain":["2.1m²（MFX-21U ）","2.5m²（MFX-25U ）"],"range":["#264f88","#604a7b"]},"legend":{"orient":"none","legendX":614,"legendY":-58,"title":null}}}},
     {"mark":{"type":"text","fontSize":32,"fontWeight":"bold"},"encoding":{"xOffset":{"field":"s","type":"nominal"},"y":{"field":"mid","type":"quantitative","title":"Removal rate (%)"},"text":{"field":"v","type":"quantitative","format":".1f"}}}
    ]},
   {"width":729,"height":1,"title":{"text":["n = 7","mean ± SD"],"font":"Liberation Sans, Arial, sans-serif","fontSize":24,"lineHeight":31,"color":"#000","anchor":"start","frame":"group","align":"left","baseline":"top","dx":100,"dy":114.5,"offset":0},"data":{"values":[{}]},"mark":{"type":"rule","opacity":0},"encoding":{"x":{"datum":0,"type":"quantitative","scale":{"domain":[0,1]},"axis":null},"y":{"datum":1,"type":"quantitative","scale":{"domain":[0,1]},"axis":null},"y2":{"datum":0}}},
   {"width":690,"height":304,
    "title":{"text":"Pre-HDF 50  vs. Post-HDF 10  L/session","dx":19,"offset":47.7},
    "data":{"name":"d"},
    "transform":[{"filter":"datum.p==5&&datum.g=='t'"},{"calculate":"datum.v/2","as":"mid"},{"calculate":"datum.v+datum.sd","as":"hi"}],
    "encoding":{"x":{"field":"c","type":"nominal","title":null,"scale":{"type":"band","domain":["IS","Cres"],"paddingInner":0.437,"paddingOuter":0.2185}}},
    "layer":[
     {"mark":{"type":"rule","color":"#000","strokeWidth":3},"encoding":{"xOffset":{"field":"s","type":"nominal","scale":{"type":"band","domain":["Pre-HDF  50 L","Post-HDF 10 L"],"range":[0,194.2],"paddingInner":0,"paddingOuter":0}},"y":{"field":"v","type":"quantitative","title":"Removal rate (%)","scale":{"domain":[0,100],"nice":false},"axis":{"values":[0,20,40,60,80,100]}},"y2":{"field":"hi"}}},
     {"mark":{"type":"tick","color":"#000","size":9,"thickness":3},"encoding":{"xOffset":{"field":"s","type":"nominal"},"y":{"field":"hi","type":"quantitative","title":"Removal rate (%)"}}},
     {"mark":{"type":"bar","strokeWidth":2.5},"encoding":{"xOffset":{"field":"s","type":"nominal"},"y":{"field":"v","type":"quantitative","title":"Removal rate (%)"},
       "fill":{"field":"s","type":"nominal","scale":{"domain":["Pre-HDF  50 L","Post-HDF 10 L"],"range":[{"expr":"{gradient:'linear',x1:0,y1:0,x2:1,y2:0,stops:[{offset:0,color:'#5a8dd6'},{offset:0.45,color:'#c6d9f1'},{offset:0.6,color:'#c6d9f1'},{offset:1,color:'#6a9bde'}]}"},{"expr":"{gradient:'linear',x1:0,y1:0,x2:1,y2:0,stops:[{offset:0,color:'#cccccc'},{offset:0.45,color:'#f4f4f4'},{offset:0.6,color:'#f4f4f4'},{offset:1,color:'#b3b3b3'}]}"}]},"legend":{"orient":"none","legendX":714,"legendY":-30,"title":null}},
       "stroke":{"field":"s","type":"nominal","scale":{"domain":["Pre-HDF  50 L","Post-HDF 10 L"],"range":["#264f88","#8a8a8a"]},"legend":{"orient":"none","legendX":714,"legendY":-30,"title":null}}}},
     {"mark":{"type":"text","fontSize":32,"fontWeight":"bold"},"encoding":{"xOffset":{"field":"s","type":"nominal"},"y":{"field":"mid","type":"quantitative","title":"Removal rate (%)"},"text":{"field":"v","type":"quantitative","format":".1f"}}}
    ]},
   {"width":693,"height":1,"title":{"text":["n = 7","mean ± SD"],"font":"Liberation Sans, Arial, sans-serif","fontSize":24,"lineHeight":31,"color":"#000","anchor":"start","frame":"group","align":"left","baseline":"top","dx":94,"dy":137.5,"offset":0},"data":{"values":[{}]},"mark":{"type":"rule","opacity":0},"encoding":{"x":{"datum":0,"type":"quantitative","scale":{"domain":[0,1]},"axis":null},"y":{"datum":1,"type":"quantitative","scale":{"domain":[0,1]},"axis":null},"y2":{"datum":0}}},
   {"width":690,"height":304,
    "title":{"text":"Pre-HDF : 50  vs. 5  L/session","dx":-7,"offset":66.7},
    "data":{"name":"d"},
    "transform":[{"filter":"datum.p==6&&datum.g=='t'"},{"calculate":"datum.v/2","as":"mid"},{"calculate":"datum.v+datum.sd","as":"hi"}],
    "encoding":{"x":{"field":"c","type":"nominal","title":null,"scale":{"type":"band","domain":["IS","Cres"],"paddingInner":0.437,"paddingOuter":0.2185}}},
    "layer":[
     {"mark":{"type":"rule","color":"#000","strokeWidth":3},"encoding":{"xOffset":{"field":"s","type":"nominal","scale":{"type":"band","domain":["50 L HDF"," 5 L  HDF"],"range":[0,194.2],"paddingInner":0,"paddingOuter":0}},"y":{"field":"v","type":"quantitative","title":"Removal rate (%)","scale":{"domain":[0,100],"nice":false},"axis":{"values":[0,20,40,60,80,100]}},"y2":{"field":"hi"}}},
     {"mark":{"type":"tick","color":"#000","size":9,"thickness":3},"encoding":{"xOffset":{"field":"s","type":"nominal"},"y":{"field":"hi","type":"quantitative","title":"Removal rate (%)"}}},
     {"mark":{"type":"bar","strokeWidth":2.5},"encoding":{"xOffset":{"field":"s","type":"nominal"},"y":{"field":"v","type":"quantitative","title":"Removal rate (%)"},
       "fill":{"field":"s","type":"nominal","scale":{"domain":["50 L HDF"," 5 L  HDF"],"range":[{"expr":"{gradient:'linear',x1:0,y1:0,x2:1,y2:0,stops:[{offset:0,color:'#5a8dd6'},{offset:0.45,color:'#c6d9f1'},{offset:0.6,color:'#c6d9f1'},{offset:1,color:'#6a9bde'}]}"},{"expr":"{gradient:'linear',x1:0,y1:0,x2:1,y2:0,stops:[{offset:0,color:'#fbcba4'},{offset:0.45,color:'#fdeadb'},{offset:0.6,color:'#fdeadb'},{offset:1,color:'#f8bb88'}]}"}]},"legend":{"orient":"none","legendX":714,"legendY":-29,"title":null}},
       "stroke":{"field":"s","type":"nominal","scale":{"domain":["50 L HDF"," 5 L  HDF"],"range":["#264f88","#b3611c"]},"legend":{"orient":"none","legendX":714,"legendY":-29,"title":null}}}},
     {"mark":{"type":"text","fontSize":32,"fontWeight":"bold"},"encoding":{"xOffset":{"field":"s","type":"nominal"},"y":{"field":"mid","type":"quantitative","title":"Removal rate (%)"},"text":{"field":"v","type":"quantitative","format":".1f"}}},
     {"data":{"name":"legs"},"transform":[{"filter":"datum.p==6&&datum.g=='t'"}],"mark":{"type":"rule","color":"#000","strokeWidth":2.5},"encoding":{"xOffset":{"field":"s","type":"nominal"},"y":{"field":"top","type":"quantitative","title":"Removal rate (%)"},"y2":{"field":"bot"}}},
     {"data":{"name":"brk"},"transform":[{"filter":"datum.p==6&&datum.g=='t'"}],"mark":{"type":"tick","color":"#000","size":97,"thickness":2.5},"encoding":{"y":{"field":"h","type":"quantitative","title":"Removal rate (%)"}}},
     {"data":{"name":"brk"},"transform":[{"filter":"datum.p==6&&datum.g=='t'"}],"mark":{"type":"text","fontSize":25,"fontWeight":"bold"},"encoding":{"y":{"field":"ty","type":"quantitative","title":"Removal rate (%)"},"text":{"field":"t"}}}
    ]},
   {"width":1,"height":1,"title":{"text":["n = 7","mean ± SD"],"font":"Liberation Sans, Arial, sans-serif","fontSize":24,"lineHeight":31,"color":"#000","anchor":"start","frame":"group","align":"left","baseline":"top","dx":87,"dy":145.5,"offset":0},"data":{"values":[{}]},"mark":{"type":"rule","opacity":0},"encoding":{"x":{"datum":0,"type":"quantitative","scale":{"domain":[0,1]},"axis":null},"y":{"datum":1,"type":"quantitative","scale":{"domain":[0,1]},"axis":null},"y2":{"datum":0}}}
  ],"spacing":0,"bounds":"flush",
  "resolve":{"scale":{"fill":"independent","stroke":"independent","xOffset":"independent"},"legend":{"fill":"independent","stroke":"independent"}}},
 {"hconcat":[
   {"width":1,"height":1,"data":{"values":[{}]},"mark":{"type":"rule","opacity":0},"encoding":{"x":{"datum":-140,"type":"quantitative","scale":{"domain":[0,1],"nice":false,"zero":false},"axis":null},"y":{"datum":54,"type":"quantitative","scale":{"domain":[0,1],"nice":false,"zero":false},"axis":null},"y2":{"datum":-399}}},
   {"width":520,"height":300,"data":{"name":"d"},
    "transform":[{"filter":"datum.p==4&&datum.g=='b'"},{"calculate":"datum.v/2","as":"mid"},{"calculate":"datum.v+datum.sd","as":"hi"}],
    "encoding":{"x":{"field":"c","type":"nominal","title":null,"scale":{"type":"band","domain":["β₂-MG","α₁-MG"],"paddingInner":0.427,"paddingOuter":0.2135}}},
    "layer":[
     {"mark":{"type":"rule","color":"#000","strokeWidth":3},"encoding":{"xOffset":{"field":"s","type":"nominal","scale":{"type":"band","domain":["2.1m²（MFX-21U ）","2.5m²（MFX-25U ）"],"range":[0,149],"paddingInner":0,"paddingOuter":0}},"y":{"field":"v","type":"quantitative","title":"Removal rate (%)","scale":{"domain":[0,100],"nice":false},"axis":{"values":[0,20,40,60,80,100]}},"y2":{"field":"hi"}}},
     {"mark":{"type":"tick","color":"#000","size":9,"thickness":3},"encoding":{"xOffset":{"field":"s","type":"nominal"},"y":{"field":"hi","type":"quantitative","title":"Removal rate (%)"}}},
     {"mark":{"type":"bar","strokeWidth":2.5},"encoding":{"xOffset":{"field":"s","type":"nominal"},"y":{"field":"v","type":"quantitative","title":"Removal rate (%)"},
       "fill":{"field":"s","type":"nominal","scale":{"domain":["2.1m²（MFX-21U ）","2.5m²（MFX-25U ）"],"range":[{"expr":"{gradient:'linear',x1:0,y1:0,x2:1,y2:0,stops:[{offset:0,color:'#5a8dd6'},{offset:0.45,color:'#c6d9f1'},{offset:0.6,color:'#c6d9f1'},{offset:1,color:'#6a9bde'}]}"},{"expr":"{gradient:'linear',x1:0,y1:0,x2:1,y2:0,stops:[{offset:0,color:'#c5b9d6'},{offset:0.45,color:'#e8e2ee'},{offset:0.6,color:'#e8e2ee'},{offset:1,color:'#b09ec6'}]}"}]},"legend":null},
       "stroke":{"field":"s","type":"nominal","scale":{"domain":["2.1m²（MFX-21U ）","2.5m²（MFX-25U ）"],"range":["#264f88","#604a7b"]},"legend":null}}},
     {"mark":{"type":"text","fontSize":32,"fontWeight":"bold"},"encoding":{"xOffset":{"field":"s","type":"nominal"},"y":{"field":"mid","type":"quantitative","title":"Removal rate (%)"},"text":{"field":"v","type":"quantitative","format":".1f"}}},
     {"data":{"name":"legs"},"transform":[{"filter":"datum.p==4&&datum.g=='b'"}],"mark":{"type":"rule","color":"#000","strokeWidth":2.5},"encoding":{"xOffset":{"field":"s","type":"nominal"},"y":{"field":"top","type":"quantitative","title":"Removal rate (%)"},"y2":{"field":"bot"}}},
     {"data":{"name":"brk"},"transform":[{"filter":"datum.p==4&&datum.g=='b'"}],"mark":{"type":"tick","color":"#000","size":75,"thickness":2.5},"encoding":{"y":{"field":"h","type":"quantitative","title":"Removal rate (%)"}}},
     {"data":{"name":"brk"},"transform":[{"filter":"datum.p==4&&datum.g=='b'"}],"mark":{"type":"text","fontSize":25,"fontWeight":"bold"},"encoding":{"y":{"field":"ty","type":"quantitative","title":"Removal rate (%)"},"text":{"field":"t"}}}
    ]},
   {"width":154,"height":1,"data":{"values":[{}]},"mark":{"type":"point","opacity":0}},
   {"width":388,"height":300,"data":{"name":"d"},
    "transform":[{"filter":"datum.p==4&&datum.g=='a'"},{"calculate":"datum.v/2","as":"mid"},{"calculate":"datum.v+datum.sd","as":"hi"}],
    "encoding":{"x":{"field":"c","type":"nominal","title":null,"scale":{"type":"band","domain":["Alb"],"paddingInner":0.428,"paddingOuter":0.214}}},
    "layer":[
     {"mark":{"type":"rule","color":"#000","strokeWidth":3},"encoding":{"xOffset":{"field":"s","type":"nominal","scale":{"type":"band","domain":["2.1m²（MFX-21U ）","2.5m²（MFX-25U ）"],"range":[0,222],"paddingInner":0,"paddingOuter":0}},"y":{"field":"v","type":"quantitative","title":"Albumin loss (g)","scale":{"domain":[0,8],"nice":false},"axis":{"values":[0,2,4,6,8]}},"y2":{"field":"hi"}}},
     {"mark":{"type":"tick","color":"#000","size":9,"thickness":3},"encoding":{"xOffset":{"field":"s","type":"nominal"},"y":{"field":"hi","type":"quantitative","title":"Albumin loss (g)"}}},
     {"mark":{"type":"bar","strokeWidth":2.5},"encoding":{"xOffset":{"field":"s","type":"nominal"},"y":{"field":"v","type":"quantitative","title":"Albumin loss (g)"},
       "fill":{"field":"s","type":"nominal","scale":{"domain":["2.1m²（MFX-21U ）","2.5m²（MFX-25U ）"],"range":[{"expr":"{gradient:'linear',x1:0,y1:0,x2:1,y2:0,stops:[{offset:0,color:'#5a8dd6'},{offset:0.45,color:'#c6d9f1'},{offset:0.6,color:'#c6d9f1'},{offset:1,color:'#6a9bde'}]}"},{"expr":"{gradient:'linear',x1:0,y1:0,x2:1,y2:0,stops:[{offset:0,color:'#c5b9d6'},{offset:0.45,color:'#e8e2ee'},{offset:0.6,color:'#e8e2ee'},{offset:1,color:'#b09ec6'}]}"}]},"legend":null},
       "stroke":{"field":"s","type":"nominal","scale":{"domain":["2.1m²（MFX-21U ）","2.5m²（MFX-25U ）"],"range":["#264f88","#604a7b"]},"legend":null}}},
     {"mark":{"type":"text","fontSize":32,"fontWeight":"bold"},"encoding":{"xOffset":{"field":"s","type":"nominal"},"y":{"field":"mid","type":"quantitative","title":"Albumin loss (g)"},"text":{"field":"v","type":"quantitative","format":".1f"}}},
     {"data":{"name":"legs"},"transform":[{"filter":"datum.p==4&&datum.g=='a'"}],"mark":{"type":"rule","color":"#000","strokeWidth":2.5},"encoding":{"xOffset":{"field":"s","type":"nominal"},"y":{"field":"top","type":"quantitative","title":"Albumin loss (g)"},"y2":{"field":"bot"}}},
     {"data":{"name":"brk"},"transform":[{"filter":"datum.p==4&&datum.g=='a'"}],"mark":{"type":"tick","color":"#000","size":111,"thickness":2.5},"encoding":{"y":{"field":"h","type":"quantitative","title":"Albumin loss (g)"}}},
     {"data":{"name":"brk"},"transform":[{"filter":"datum.p==4&&datum.g=='a'"}],"mark":{"type":"text","fontSize":25,"fontWeight":"bold"},"encoding":{"y":{"field":"ty","type":"quantitative","title":"Albumin loss (g)"},"text":{"field":"t"}}}
    ]},
   {"width":358,"height":1,"data":{"values":[{}]},"mark":{"type":"point","opacity":0}},
   {"width":520,"height":300,"data":{"name":"d"},
    "transform":[{"filter":"datum.p==5&&datum.g=='b'"},{"calculate":"datum.v/2","as":"mid"},{"calculate":"datum.v+datum.sd","as":"hi"}],
    "encoding":{"x":{"field":"c","type":"nominal","title":null,"scale":{"type":"band","domain":["β₂-MG","α₁-MG"],"paddingInner":0.427,"paddingOuter":0.2135}}},
    "layer":[
     {"mark":{"type":"rule","color":"#000","strokeWidth":3},"encoding":{"xOffset":{"field":"s","type":"nominal","scale":{"type":"band","domain":["Pre-HDF  50 L","Post-HDF 10 L"],"range":[0,149],"paddingInner":0,"paddingOuter":0}},"y":{"field":"v","type":"quantitative","title":"Removal rate (%)","scale":{"domain":[0,100],"nice":false},"axis":{"values":[0,20,40,60,80,100]}},"y2":{"field":"hi"}}},
     {"mark":{"type":"tick","color":"#000","size":9,"thickness":3},"encoding":{"xOffset":{"field":"s","type":"nominal"},"y":{"field":"hi","type":"quantitative","title":"Removal rate (%)"}}},
     {"mark":{"type":"bar","strokeWidth":2.5},"encoding":{"xOffset":{"field":"s","type":"nominal"},"y":{"field":"v","type":"quantitative","title":"Removal rate (%)"},
       "fill":{"field":"s","type":"nominal","scale":{"domain":["Pre-HDF  50 L","Post-HDF 10 L"],"range":[{"expr":"{gradient:'linear',x1:0,y1:0,x2:1,y2:0,stops:[{offset:0,color:'#5a8dd6'},{offset:0.45,color:'#c6d9f1'},{offset:0.6,color:'#c6d9f1'},{offset:1,color:'#6a9bde'}]}"},{"expr":"{gradient:'linear',x1:0,y1:0,x2:1,y2:0,stops:[{offset:0,color:'#cccccc'},{offset:0.45,color:'#f4f4f4'},{offset:0.6,color:'#f4f4f4'},{offset:1,color:'#b3b3b3'}]}"}]},"legend":null},
       "stroke":{"field":"s","type":"nominal","scale":{"domain":["Pre-HDF  50 L","Post-HDF 10 L"],"range":["#264f88","#8a8a8a"]},"legend":null}}},
     {"mark":{"type":"text","fontSize":32,"fontWeight":"bold"},"encoding":{"xOffset":{"field":"s","type":"nominal"},"y":{"field":"mid","type":"quantitative","title":"Removal rate (%)"},"text":{"field":"v","type":"quantitative","format":".1f"}}}
    ]},
   {"width":160,"height":1,"data":{"values":[{}]},"mark":{"type":"point","opacity":0}},
   {"width":388,"height":300,"data":{"name":"d"},
    "transform":[{"filter":"datum.p==5&&datum.g=='a'"},{"calculate":"datum.v/2","as":"mid"},{"calculate":"datum.v+datum.sd","as":"hi"}],
    "encoding":{"x":{"field":"c","type":"nominal","title":null,"scale":{"type":"band","domain":["Alb"],"paddingInner":0.428,"paddingOuter":0.214}}},
    "layer":[
     {"mark":{"type":"rule","color":"#000","strokeWidth":3},"encoding":{"xOffset":{"field":"s","type":"nominal","scale":{"type":"band","domain":["Pre-HDF  50 L","Post-HDF 10 L"],"range":[0,222],"paddingInner":0,"paddingOuter":0}},"y":{"field":"v","type":"quantitative","title":"Albumin loss (g)","scale":{"domain":[0,8],"nice":false},"axis":{"values":[0,2,4,6,8]}},"y2":{"field":"hi"}}},
     {"mark":{"type":"tick","color":"#000","size":9,"thickness":3},"encoding":{"xOffset":{"field":"s","type":"nominal"},"y":{"field":"hi","type":"quantitative","title":"Albumin loss (g)"}}},
     {"mark":{"type":"bar","strokeWidth":2.5},"encoding":{"xOffset":{"field":"s","type":"nominal"},"y":{"field":"v","type":"quantitative","title":"Albumin loss (g)"},
       "fill":{"field":"s","type":"nominal","scale":{"domain":["Pre-HDF  50 L","Post-HDF 10 L"],"range":[{"expr":"{gradient:'linear',x1:0,y1:0,x2:1,y2:0,stops:[{offset:0,color:'#5a8dd6'},{offset:0.45,color:'#c6d9f1'},{offset:0.6,color:'#c6d9f1'},{offset:1,color:'#6a9bde'}]}"},{"expr":"{gradient:'linear',x1:0,y1:0,x2:1,y2:0,stops:[{offset:0,color:'#cccccc'},{offset:0.45,color:'#f4f4f4'},{offset:0.6,color:'#f4f4f4'},{offset:1,color:'#b3b3b3'}]}"}]},"legend":null},
       "stroke":{"field":"s","type":"nominal","scale":{"domain":["Pre-HDF  50 L","Post-HDF 10 L"],"range":["#264f88","#8a8a8a"]},"legend":null}}},
     {"mark":{"type":"text","fontSize":32,"fontWeight":"bold"},"encoding":{"xOffset":{"field":"s","type":"nominal"},"y":{"field":"mid","type":"quantitative","title":"Albumin loss (g)"},"text":{"field":"v","type":"quantitative","format":".1f"}}}
    ]},
   {"width":314,"height":1,"data":{"values":[{}]},"mark":{"type":"point","opacity":0}},
   {"width":520,"height":300,"data":{"name":"d"},
    "transform":[{"filter":"datum.p==6&&datum.g=='b'"},{"calculate":"datum.v/2","as":"mid"},{"calculate":"datum.v+datum.sd","as":"hi"}],
    "encoding":{"x":{"field":"c","type":"nominal","title":null,"scale":{"type":"band","domain":["β₂-MG","α₁-MG"],"paddingInner":0.427,"paddingOuter":0.2135}}},
    "layer":[
     {"mark":{"type":"rule","color":"#000","strokeWidth":3},"encoding":{"xOffset":{"field":"s","type":"nominal","scale":{"type":"band","domain":["50 L HDF"," 5 L  HDF"],"range":[0,149],"paddingInner":0,"paddingOuter":0}},"y":{"field":"v","type":"quantitative","title":"Removal rate (%)","scale":{"domain":[0,100],"nice":false},"axis":{"values":[0,20,40,60,80,100]}},"y2":{"field":"hi"}}},
     {"mark":{"type":"tick","color":"#000","size":9,"thickness":3},"encoding":{"xOffset":{"field":"s","type":"nominal"},"y":{"field":"hi","type":"quantitative","title":"Removal rate (%)"}}},
     {"mark":{"type":"bar","strokeWidth":2.5},"encoding":{"xOffset":{"field":"s","type":"nominal"},"y":{"field":"v","type":"quantitative","title":"Removal rate (%)"},
       "fill":{"field":"s","type":"nominal","scale":{"domain":["50 L HDF"," 5 L  HDF"],"range":[{"expr":"{gradient:'linear',x1:0,y1:0,x2:1,y2:0,stops:[{offset:0,color:'#5a8dd6'},{offset:0.45,color:'#c6d9f1'},{offset:0.6,color:'#c6d9f1'},{offset:1,color:'#6a9bde'}]}"},{"expr":"{gradient:'linear',x1:0,y1:0,x2:1,y2:0,stops:[{offset:0,color:'#fbcba4'},{offset:0.45,color:'#fdeadb'},{offset:0.6,color:'#fdeadb'},{offset:1,color:'#f8bb88'}]}"}]},"legend":null},
       "stroke":{"field":"s","type":"nominal","scale":{"domain":["50 L HDF"," 5 L  HDF"],"range":["#264f88","#b3611c"]},"legend":null}}},
     {"mark":{"type":"text","fontSize":32,"fontWeight":"bold"},"encoding":{"xOffset":{"field":"s","type":"nominal"},"y":{"field":"mid","type":"quantitative","title":"Removal rate (%)"},"text":{"field":"v","type":"quantitative","format":".1f"}}},
     {"data":{"name":"legs"},"transform":[{"filter":"datum.p==6&&datum.g=='b'"}],"mark":{"type":"rule","color":"#000","strokeWidth":2.5},"encoding":{"xOffset":{"field":"s","type":"nominal"},"y":{"field":"top","type":"quantitative","title":"Removal rate (%)"},"y2":{"field":"bot"}}},
     {"data":{"name":"brk"},"transform":[{"filter":"datum.p==6&&datum.g=='b'"}],"mark":{"type":"tick","color":"#000","size":75,"thickness":3.5},"encoding":{"y":{"field":"h","type":"quantitative","title":"Removal rate (%)"}}},
     {"data":{"name":"brk"},"transform":[{"filter":"datum.p==6&&datum.g=='b'"}],"mark":{"type":"text","fontSize":25,"fontWeight":"bold"},"encoding":{"y":{"field":"ty","type":"quantitative","title":"Removal rate (%)"},"text":{"field":"t"}}}
    ]},
   {"width":155,"height":1,"data":{"values":[{}]},"mark":{"type":"point","opacity":0}},
   {"width":388,"height":300,"data":{"name":"d"},
    "transform":[{"filter":"datum.p==6&&datum.g=='a'"},{"calculate":"datum.v/2","as":"mid"},{"calculate":"datum.v+datum.sd","as":"hi"}],
    "encoding":{"x":{"field":"c","type":"nominal","title":null,"scale":{"type":"band","domain":["Alb"],"paddingInner":0.428,"paddingOuter":0.214}}},
    "layer":[
     {"mark":{"type":"rule","color":"#000","strokeWidth":3},"encoding":{"xOffset":{"field":"s","type":"nominal","scale":{"type":"band","domain":["50 L HDF"," 5 L  HDF"],"range":[0,222],"paddingInner":0,"paddingOuter":0}},"y":{"field":"v","type":"quantitative","title":"Albumin loss (g)","scale":{"domain":[0,8],"nice":false},"axis":{"values":[0,2,4,6,8]}},"y2":{"field":"hi"}}},
     {"mark":{"type":"tick","color":"#000","size":9,"thickness":3},"encoding":{"xOffset":{"field":"s","type":"nominal"},"y":{"field":"hi","type":"quantitative","title":"Albumin loss (g)"}}},
     {"mark":{"type":"bar","strokeWidth":2.5},"encoding":{"xOffset":{"field":"s","type":"nominal"},"y":{"field":"v","type":"quantitative","title":"Albumin loss (g)"},
       "fill":{"field":"s","type":"nominal","scale":{"domain":["50 L HDF"," 5 L  HDF"],"range":[{"expr":"{gradient:'linear',x1:0,y1:0,x2:1,y2:0,stops:[{offset:0,color:'#5a8dd6'},{offset:0.45,color:'#c6d9f1'},{offset:0.6,color:'#c6d9f1'},{offset:1,color:'#6a9bde'}]}"},{"expr":"{gradient:'linear',x1:0,y1:0,x2:1,y2:0,stops:[{offset:0,color:'#fbcba4'},{offset:0.45,color:'#fdeadb'},{offset:0.6,color:'#fdeadb'},{offset:1,color:'#f8bb88'}]}"}]},"legend":null},
       "stroke":{"field":"s","type":"nominal","scale":{"domain":["50 L HDF"," 5 L  HDF"],"range":["#264f88","#b3611c"]},"legend":null}}},
     {"mark":{"type":"text","fontSize":32,"fontWeight":"bold"},"encoding":{"xOffset":{"field":"s","type":"nominal"},"y":{"field":"mid","type":"quantitative","title":"Albumin loss (g)"},"text":{"field":"v","type":"quantitative","format":".1f"}}},
     {"data":{"name":"legs"},"transform":[{"filter":"datum.p==6&&datum.g=='a'"}],"mark":{"type":"rule","color":"#000","strokeWidth":2.5},"encoding":{"xOffset":{"field":"s","type":"nominal"},"y":{"field":"top","type":"quantitative","title":"Albumin loss (g)"},"y2":{"field":"bot"}}},
     {"data":{"name":"brk"},"transform":[{"filter":"datum.p==6&&datum.g=='a'"}],"mark":{"type":"tick","color":"#000","size":111,"thickness":4.5},"encoding":{"y":{"field":"h","type":"quantitative","title":"Albumin loss (g)"}}},
     {"data":{"name":"brk"},"transform":[{"filter":"datum.p==6&&datum.g=='a'"}],"mark":{"type":"text","fontSize":25,"fontWeight":"bold"},"encoding":{"y":{"field":"ty","type":"quantitative","title":"Albumin loss (g)"},"text":{"field":"t"}}}
    ]}
  ],"spacing":0,"bounds":"flush",
  "resolve":{"scale":{"fill":"independent","stroke":"independent","xOffset":"independent"},"legend":{"fill":"independent","stroke":"independent"}}}
]
}
